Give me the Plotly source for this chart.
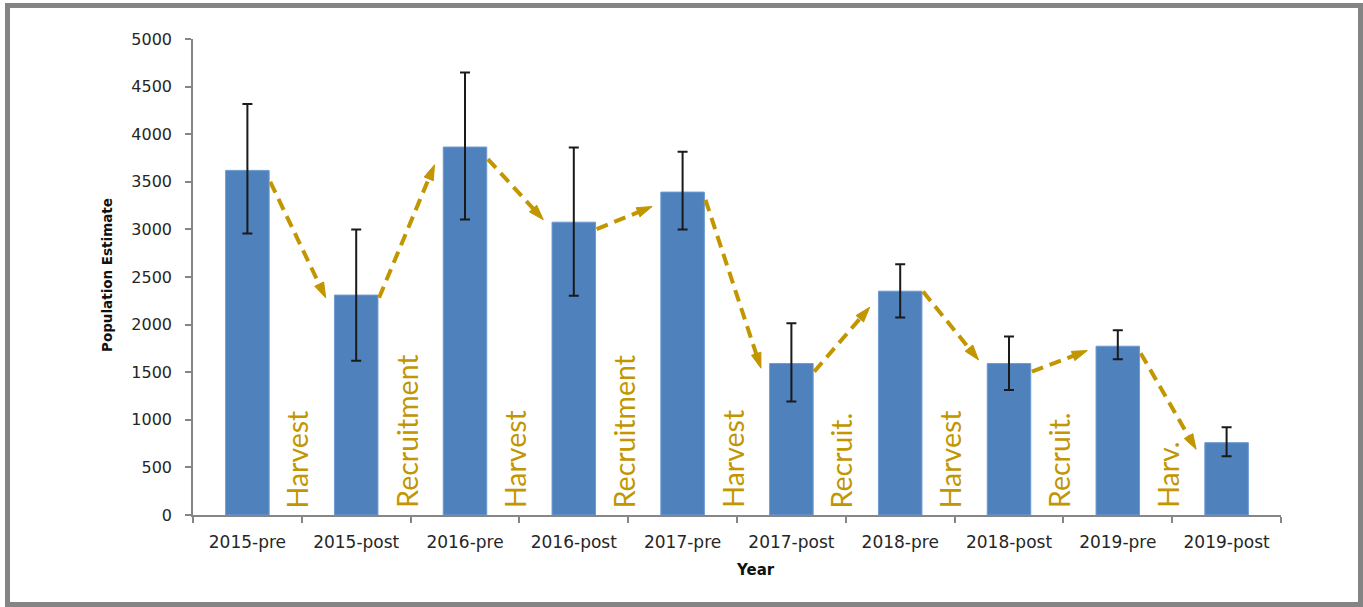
import plotly.graph_objects as go

# ---- data ----
categories = ["2015-pre", "2015-post", "2016-pre", "2016-post", "2017-pre",
              "2017-post", "2018-pre", "2018-post", "2019-pre", "2019-post"]
estimates = [3620, 2310, 3865, 3076, 3392, 1591, 2351, 1591, 1773, 760]
ci_upper = [4317, 2999, 4649, 3861, 3815, 2015, 2635, 1874, 1940, 922]
ci_lower = [2957, 1619, 3104, 2302, 2999, 1191, 2074, 1314, 1637, 617]

# transition arrows (start level near bar i, end level near bar i+1)
arrow_start_y = [3500, 2281, 3739, 3003, 3311, 1506, 2347, 1506, 1700]
arrow_end_y = [2281, 3679, 3101, 3240, 1542, 2183, 1629, 1727, 690]
transition_labels = ["Harvest", "Recruitment", "Harvest", "Recruitment", "Harvest",
                     "Recruit.", "Harvest", "Recruit.", "Harv."]

y_ticks = list(range(0, 5001, 500))

# ---- styling ----
BAR = "#4F81BD"
GOLD = "#C29600"
AXIS = "#868686"
TXT = "#262626"

x_pos = list(range(len(categories)))
err_plus = [u - v for u, v in zip(ci_upper, estimates)]
err_minus = [v - l for v, l in zip(estimates, ci_lower)]

fig = go.Figure()
fig.add_trace(go.Bar(
    x=x_pos, y=estimates, width=0.4,
    marker=dict(color=BAR, line=dict(color="#6E9AD0", width=1)),
    error_y=dict(type="data", symmetric=False, array=err_plus, arrayminus=err_minus,
                 color="#1a1a1a", thickness=2, width=5),
    showlegend=False, hoverinfo="skip",
))

START_DX = 0.21
END_DX = 0.28
for i in range(len(arrow_start_y)):
    fig.add_trace(go.Scatter(
        x=[i + START_DX, i + 1 - END_DX],
        y=[arrow_start_y[i], arrow_end_y[i]],
        mode="lines+markers",
        line=dict(color=GOLD, width=4, dash="12px,7px"),
        marker=dict(symbol="arrow", size=[0, 16], angleref="previous", color=GOLD,
                    opacity=1, line=dict(width=1, color=GOLD)),
        showlegend=False, hoverinfo="skip", cliponaxis=False,
    ))

annotations = []
for i, lab in enumerate(transition_labels):
    annotations.append(dict(
        x=i + 0.46, y=0, xref="x", yref="y", text=lab, showarrow=False,
        textangle=-90, xanchor="center", yanchor="bottom", yshift=5,
        font=dict(family="Lato", size=28.5, color=GOLD),
    ))

annotations.append(dict(
    x=(755 - 193) / 1088, y=(515 - 570) / 476, xref="paper", yref="paper",
    text="<b>Year</b>", showarrow=False, xanchor="center", yanchor="middle",
    font=dict(family="DejaVu Sans", size=15, color="#111111"),
))
annotations.append(dict(
    x=(107 - 193) / 1088, y=(515 - 275) / 476, xref="paper", yref="paper",
    text="<b>Population Estimate</b>", showarrow=False, textangle=-90,
    xanchor="center", yanchor="middle",
    font=dict(family="DejaVu Sans", size=13.5, color="#111111"),
))

fig.update_layout(
    width=1363, height=607,
    margin=dict(l=193, r=82, t=39, b=92),
    paper_bgcolor="white", plot_bgcolor="white",
    bargap=0.6,
    annotations=annotations,
    shapes=[dict(
        type="rect", xref="paper", yref="paper",
        x0=(7.5 - 193) / 1088, x1=(1360.5 - 193) / 1088,
        y0=(515 - 604.5) / 476, y1=(515 - 5.5) / 476,
        line=dict(color="#848484", width=5), fillcolor="rgba(0,0,0,0)", layer="below",
    )],
    xaxis=dict(
        range=[-0.5, len(categories) - 0.5],
        tickmode="array", tickvals=x_pos, ticktext=categories,
        ticks="", showline=True, linecolor=AXIS, linewidth=1.5,
        showgrid=False, zeroline=False,
        ticklabelstandoff=11,
        tickfont=dict(family="DejaVu Sans", size=17, color=TXT),
        minor=dict(tickmode="linear", tick0=-0.5, dtick=1, ticks="outside",
                   ticklen=6, tickcolor=AXIS, tickwidth=1.5, showgrid=False),
    ),
    yaxis=dict(
        range=[0, 5000], tickmode="array", tickvals=y_ticks,
        ticks="outside", ticklen=6, tickcolor=AXIS, tickwidth=1.5,
        showline=True, linecolor=AXIS, linewidth=1.5,
        showgrid=False, zeroline=False,
        ticklabelstandoff=10,
        tickfont=dict(family="DejaVu Sans", size=16, color=TXT),
    ),
)

fig.write_html("out.html", config={"displayModeBar": False},
               post_script="document.body.style.margin='0';document.body.style.overflow='hidden';")
